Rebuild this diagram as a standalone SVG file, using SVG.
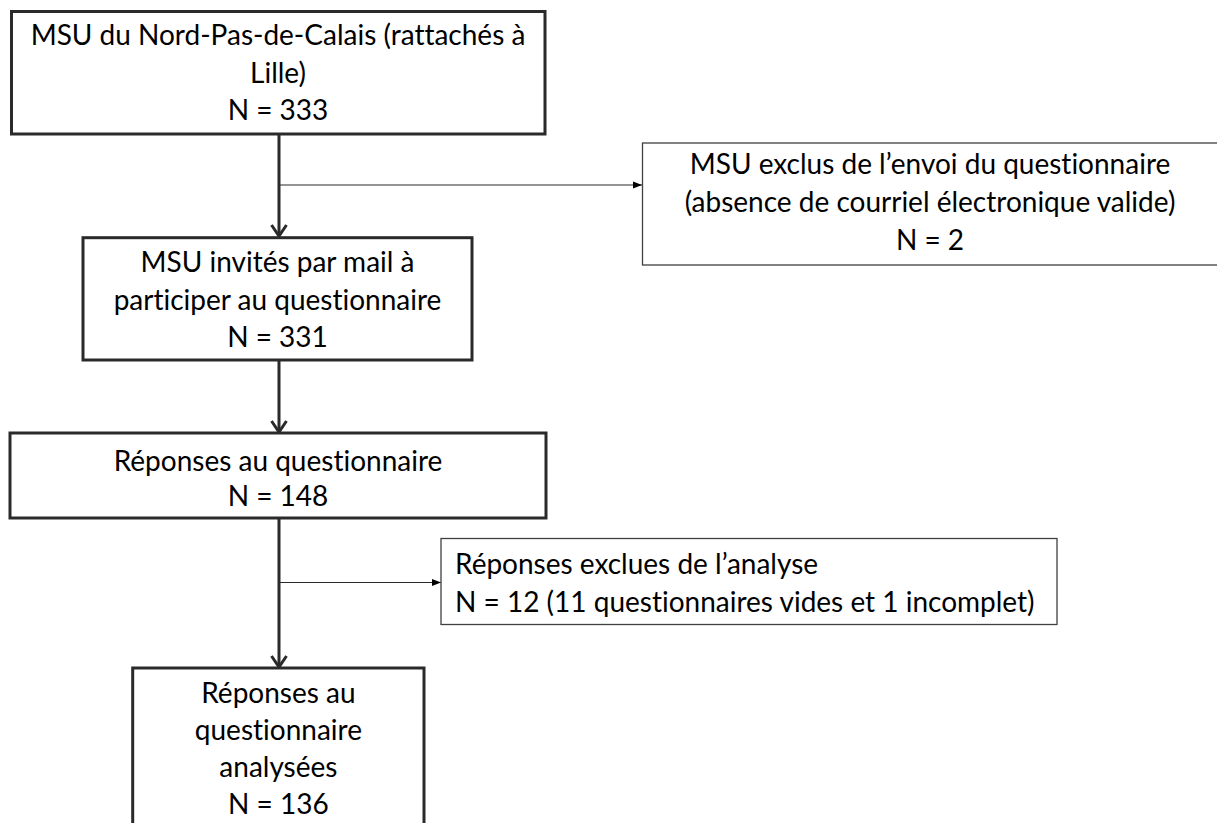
<svg xmlns="http://www.w3.org/2000/svg" width="1217" height="823" viewBox="0 0 1217 823">
<style>
  .main { fill: #ffffff; stroke: #2a2a2a; stroke-width: 3; }
  .side { fill: #ffffff; stroke: #404040; stroke-width: 1.3; }
  .t { font-family: "Lato", "Liberation Sans", sans-serif; font-size: 28px; fill: #000000; font-variant-ligatures: none; font-feature-settings: "liga" 0, "clig" 0; }
  .c { text-anchor: middle; }
  .thick { stroke: #2a2a2a; stroke-width: 3; fill: none; }
  .thin { stroke: #2a2a2a; stroke-width: 1.2; fill: none; }
</style>
<defs>
  <marker id="open" markerUnits="userSpaceOnUse" markerWidth="20" markerHeight="20" refX="14" refY="9.5" orient="auto">
    <path d="M3,2 L14,9.5 L3,17" fill="none" stroke="#2a2a2a" stroke-width="3"/>
  </marker>
  <marker id="solid" markerUnits="userSpaceOnUse" markerWidth="10" markerHeight="8" refX="9" refY="4" orient="auto">
    <path d="M0,0.5 L9,4 L0,7.5 z" fill="#000000"/>
  </marker>
</defs>
<rect width="1217" height="823" fill="#ffffff"/>
<g id="connectors">
  <line class="thick" x1="279" y1="134" x2="279" y2="236" marker-end="url(#open)"/>
  <line class="thin" x1="279" y1="185" x2="642" y2="185" marker-end="url(#solid)"/>
  <line class="thick" x1="279" y1="360" x2="279" y2="432" marker-end="url(#open)"/>
  <line class="thick" x1="279" y1="518" x2="279" y2="667" marker-end="url(#open)"/>
  <line class="thin" x1="279" y1="582.5" x2="441" y2="582.5" marker-end="url(#solid)"/>
</g>
<g id="node-msu-npdc">
  <rect class="main" x="11.5" y="11.5" width="533.5" height="122.5"/>
  <text class="t c" x="278" y="45">MSU du Nord-Pas-de-Calais (rattachés à</text>
  <text class="t c" x="278" y="83">Lille)</text>
  <text class="t c" x="278" y="120">N = 333</text>
</g>
<g id="node-exclus-envoi">
  <rect class="side" x="642.5" y="143" width="590" height="122"/>
  <text class="t c" x="930" y="174">MSU exclus de l’envoi du questionnaire</text>
  <text class="t c" x="930" y="212">(absence de courriel électronique valide)</text>
  <text class="t c" x="930" y="250">N = 2</text>
</g>
<g id="node-invites">
  <rect class="main" x="83" y="237.7" width="389" height="122.3"/>
  <text class="t c" x="277.5" y="272">MSU invités par mail à</text>
  <text class="t c" x="277.5" y="309.5">participer au questionnaire</text>
  <text class="t c" x="277.5" y="347">N = 331</text>
</g>
<g id="node-reponses">
  <rect class="main" x="10" y="433" width="536" height="85"/>
  <text class="t c" x="278" y="471">Réponses au questionnaire</text>
  <text class="t c" x="278" y="506">N = 148</text>
</g>
<g id="node-exclues-analyse">
  <rect class="side" x="441" y="538.5" width="616" height="86"/>
  <text class="t" x="455" y="574">Réponses exclues de l’analyse</text>
  <text class="t" x="455" y="612">N = 12 (11 questionnaires vides et 1 incomplet)</text>
</g>
<g id="node-analysees">
  <rect class="main" x="132.7" y="668" width="291.3" height="170"/>
  <text class="t c" x="278.4" y="703">Réponses au</text>
  <text class="t c" x="278.4" y="740">questionnaire</text>
  <text class="t c" x="278.4" y="777">analysées</text>
  <text class="t c" x="278.4" y="814">N = 136</text>
</g>
</svg>
